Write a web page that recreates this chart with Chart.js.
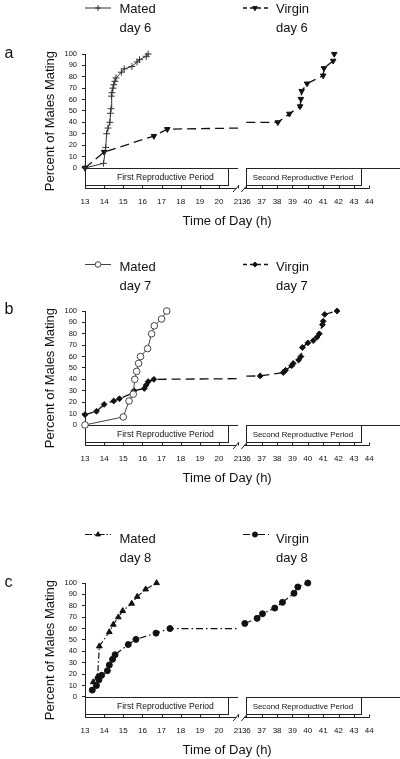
<!DOCTYPE html>
<html><head><meta charset="utf-8">
<script src="https://cdn.jsdelivr.net/npm/chart.js@4.4.1/dist/chart.umd.min.js"></script>
<style>
html,body{margin:0;padding:0;background:#fff;width:400px;height:759px;overflow:hidden;position:relative;font-family:"Liberation Sans",Arial,Helvetica,sans-serif;color:#111}
.panel{position:absolute;left:0;width:400px;height:232px}
.panel canvas{position:absolute;left:0;top:0}
.lg{position:absolute;font-size:13px;line-height:15px;white-space:nowrap}
.letter{position:absolute;left:4px;font-size:16px;line-height:16px}
</style></head><body>
<script>
// ---------- data ----------
const yTickValues = [0,10,20,30,40,50,60,70,80,90,100];
const xTickHours  = [13,14,15,16,17,18,19,20,21,36,37,38,39,40,41,42,43,44];
const xTickLabels = ['13','14','15','16','17','18','19','20','21','36','37','38','39','40','41','42','43','44'];
const periodNames = ['First Reproductive Period','Second Reproductive Period'];
const seriesNames = ['Mated','Virgin'];
const dayNames    = ['day 6','day 7','day 8'];
const panelLetters = ['a','b','c'];

// panel a (day 6)
const mated6Hours  = [13, 13.97, 14.08, 14.13, 14.2, 14.3, 14.33, 14.36, 14.38, 14.41, 14.46, 14.5, 14.56, 14.62, 14.9, 15.05, 15.45, 15.72, 15.85, 16.2, 16.3];
const mated6Pct    = [0, 4, 18, 30, 35, 40, 48, 52, 63, 66, 70, 73, 76, 79, 84, 87, 89, 93, 95, 98, 100];
const virgin6Hours = [13, 14.0, 16.6, 17.3, 21, null, 36, 38.05, 38.8, 39.5, 39.55, 39.6, 39.95, 41.0, 41.05, 41.65, 41.72];
const virgin6Pct   = [0, 14, 28, 34, 35, null, 40, 40, 47.5, 54, 60.5, 67.5, 74, 81, 87.5, 94, 100];
// panel b (day 7)
const mated7Hours  = [13, 15.0, 15.3, 15.52, 15.6, 15.7, 15.8, 15.9, 16.27, 16.48, 16.62, 17.0, 17.27];
const mated7Pct    = [0, 7, 21, 27, 40, 47, 54, 60, 67, 80, 87, 93, 100];
const virgin7Hours = [13, 13.6, 14.0, 14.5, 14.8, 15.5, 15.56, 16.1, 16.2, 16.3, 16.6, 21, null, 36, 36.9, 38.4, 38.55, 38.95, 39.05, 39.4, 39.55, 39.65, 40.0, 40.35, 40.6, 40.75, 40.95, 41.0, 41.1, 41.9];
const virgin7Pct   = [9, 12, 18, 21, 23, 28, 30, 32, 35, 38, 40, 40.6, null, 42.9, 43, 46, 48, 52, 54, 57, 60, 68, 72, 74, 77, 80, 88, 91, 97, 100];
// panel c (day 8)
const mated8Hours  = [13.43, 13.66, 13.75, 14.27, 14.48, 14.74, 14.97, 15.44, 15.73, 16.17, 16.74];
const mated8Pct    = [13, 18, 44.5, 57, 63.5, 70, 75.5, 82, 88, 94.5, 100];
const virgin8Hours = [13.38, 13.6, 13.73, 13.87, 14.17, 14.27, 14.44, 14.57, 15.26, 15.66, 16.71, 17.44, 21, null, 35.9, 36.7, 37.05, 37.85, 38.35, 39.1, 39.35, 40.0];
const virgin8Pct   = [6, 10, 15, 19, 23, 28, 33, 37, 46, 50.5, 56, 60, 60, null, 64.5, 69, 73, 78, 83, 91, 96.5, 100];

// ---------- broken time axis ----------
const GAP = 0.43, K2 = 0.803;
function toAxis(h){ return h <= 28.5 ? h - 13 : 8 + GAP + (h - 36) * K2; }
const GAP_X = (toAxis(21) + toAxis(36)) / 2;
function series(hours, pct){ return hours.map((h,i)=> h===null ? {x:GAP_X, y:null} : {x:toAxis(h), y:pct[i]}); }

const FONT = '"Liberation Sans", Arial, Helvetica, sans-serif';
const INK = '#111';

const styles = {
  mated6:  {color:'#333', width:1,   dash:[],              lgDash:[],          ps:'cross',   r:3.4, rot:0,   fill:'#333', bw:1},
  virgin6: {color:INK,    width:1.3, dash:[9,5],           lgDash:[4,3],       ps:'triangle',r:3.2, rot:180, fill:INK,    bw:1},
  mated7:  {color:'#444', width:1,   dash:[],              lgDash:[],          ps:'circle',  r:3.3, rot:0,   fill:'#fff', bw:1},
  virgin7: {color:INK,    width:1.3, dash:[9,5],           lgDash:[4,3],       ps:'rectRot', r:2.9, rot:0,   fill:INK,    bw:1},
  mated8:  {color:INK,    width:1.2, dash:[6,2.5,1.5,2.5], lgDash:[7,2,1.5,2], ps:'triangle',r:3.3, rot:0,   fill:INK,    bw:1},
  virgin8: {color:INK,    width:1.2, dash:[7,3,1.5,3],     lgDash:[7,3,2,3],   ps:'circle',  r:3.0, rot:0,   fill:INK,    bw:1}
};

function dataset(hours, pct, st){
  return {
    data: series(hours, pct),
    borderColor: st.color, borderWidth: st.width, borderDash: st.dash,
    pointStyle: st.ps, pointRotation: st.rot,
    pointRadius: c => { const h = hours[c.dataIndex]; return (h===21 || h===36) ? 0 : st.r; },
    pointBackgroundColor: st.fill, pointBorderColor: st.color, pointBorderWidth: st.bw,
    tension: 0, clip: false, spanGaps: false, fill: false
  };
}

const panels = [
  {top:0,     lgY:8,   txtY:1,   mated:[mated6Hours,mated6Pct,styles.mated6], virgin:[virgin6Hours,virgin6Pct,styles.virgin6]},
  {top:256.5, lgY:7.5, txtY:2,   mated:[mated7Hours,mated7Pct,styles.mated7], virgin:[virgin7Hours,virgin7Pct,styles.virgin7]},
  {top:529.4, lgY:5.5, txtY:1.5, mated:[mated8Hours,mated8Pct,styles.mated8], virgin:[virgin8Hours,virgin8Pct,styles.virgin8]}
];

const PX = v => Math.round(v) + 0.5;

const decor = {
  id: 'decor',
  beforeDatasetsDraw(chart){
    const {ctx, chartArea, scales:{x, y}} = chart;
    const y0 = PX(y.getPixelForValue(0));
    const ax = PX(chartArea.bottom);
    const xp = h => x.getPixelForValue(toAxis(h));
    ctx.save();
    ctx.strokeStyle = '#222'; ctx.lineWidth = 1; ctx.setLineDash([]);
    const seg = (a,b,c,d) => { ctx.beginPath(); ctx.moveTo(a,b); ctx.lineTo(c,d); ctx.stroke(); };
    // baseline at 0 %
    seg(PX(xp(13)), y0, xp(21), y0);
    seg(PX(xp(36)), y0, chart.width, y0);
    // period boxes
    const boxBottom = y0 + 17;
    ctx.strokeRect(PX(xp(13)), y0, Math.round(xp(20.45) - xp(13)), boxBottom - y0);
    ctx.strokeRect(PX(xp(36)), y0, Math.round(xp(43.5) - xp(36)), boxBottom - y0);
    ctx.fillStyle = INK; ctx.textAlign = 'center'; ctx.textBaseline = 'middle';
    ctx.font = '8.6px ' + FONT;
    ctx.fillText(periodNames[0], xp(17.2), y0 + 9);
    ctx.font = '7.9px ' + FONT;
    ctx.fillText(periodNames[1], xp(39.68), y0 + 9);
    // broken time axis
    const b1 = xp(21) - 2, b2 = xp(36) - 2;
    seg(PX(xp(13)), ax, b1, ax);
    seg(b2, ax, PX(xp(44)), ax);
    [b1, b2].forEach(bx => seg(bx - 3, ax + 3.5, bx + 3, ax - 3.5));
    xTickHours.forEach(h => { const px = PX(xp(h)); seg(px, ax, px, ax - 3); });
    ctx.restore();
  },
  afterDraw(chart, args, opts){
    const {ctx} = chart;
    const items = opts.items || [];
    items.forEach(it => {
      const st = it.st;
      ctx.save();
      ctx.strokeStyle = st.color; ctx.lineWidth = st.width; ctx.setLineDash(st.lgDash);
      ctx.beginPath(); ctx.moveTo(it.x1, it.y); ctx.lineTo(it.x2, it.y); ctx.stroke();
      ctx.setLineDash([]);
      ctx.fillStyle = st.fill; ctx.strokeStyle = st.color; ctx.lineWidth = st.bw;
      if (Chart.helpers && Chart.helpers.drawPoint) {
        Chart.helpers.drawPoint(ctx, {pointStyle: st.ps, rotation: st.rot, radius: st.r * 0.85, borderWidth: st.bw}, it.xm, it.y);
      }
      ctx.restore();
    });
  }
};

panels.forEach((p, i) => {
  const div = document.createElement('div');
  div.className = 'panel'; div.style.top = p.top + 'px';
  const cv = document.createElement('canvas'); cv.width = 400; cv.height = 232;
  div.appendChild(cv);
  const mk = (cls, txt, left, top) => { const d = document.createElement('div'); d.className = cls; d.textContent = txt; d.style.left = left + 'px'; d.style.top = top + 'px'; div.appendChild(d); };
  mk('lg', seriesNames[0], 119.5, p.txtY);
  mk('lg', dayNames[i], 119.5, p.txtY + 19);
  mk('lg', seriesNames[1], 276, p.txtY);
  mk('lg', dayNames[i], 276, p.txtY + 19);
  mk('letter', panelLetters[i], 4.5, 44.5);
  document.body.appendChild(div);

  new Chart(cv, {
    type: 'line',
    data: { datasets: [ dataset(...p.mated), dataset(...p.virgin) ] },
    options: {
      responsive: false, animation: false, events: [],
      layout: { padding: { left: 42.2, right: 30.7, top: 54, bottom: 3 } },
      plugins: {
        legend: { display: false }, tooltip: { enabled: false },
        decor: { items: [
          {x1: 85, x2: 111, xm: 98, y: p.lgY, st: p.mated[2]},
          {x1: 243, x2: 269, xm: 255, y: p.lgY, st: p.virgin[2]}
        ]}
      },
      scales: {
        x: {
          type: 'linear', min: 0, max: toAxis(44),
          afterFit: s => { s.height = 40.8; },
          afterBuildTicks: s => { s.ticks = xTickHours.map(h => ({ value: toAxis(h) })); },
          ticks: { autoSkip: false, maxRotation: 0, minRotation: 0, padding: 9.2, color: INK,
                   font: { size: 8, family: FONT }, callback: (v, idx) => xTickLabels[idx] },
          grid: { display: false, drawTicks: false },
          border: { display: false },
          title: { display: true, text: 'Time of Day (h)', color: INK, padding: 0, font: { size: 13, family: FONT } }
        },
        y: {
          type: 'linear', min: -17.8, max: 100,
          afterFit: s => { s.width = 42.8; },
          afterBuildTicks: s => { s.ticks = yTickValues.map(v => ({ value: v })); },
          ticks: { color: INK, padding: 5, font: { size: 7.5, family: FONT } },
          grid: { display: true, drawOnChartArea: false, drawTicks: true, tickLength: 3, color: '#222' },
          border: { display: true, color: '#222', width: 1 },
          title: { display: true, text: 'Percent of Males Mating', color: INK, padding: 0, font: { size: 13, family: FONT } }
        }
      }
    },
    plugins: [decor]
  });
});
</script>
</body></html>
